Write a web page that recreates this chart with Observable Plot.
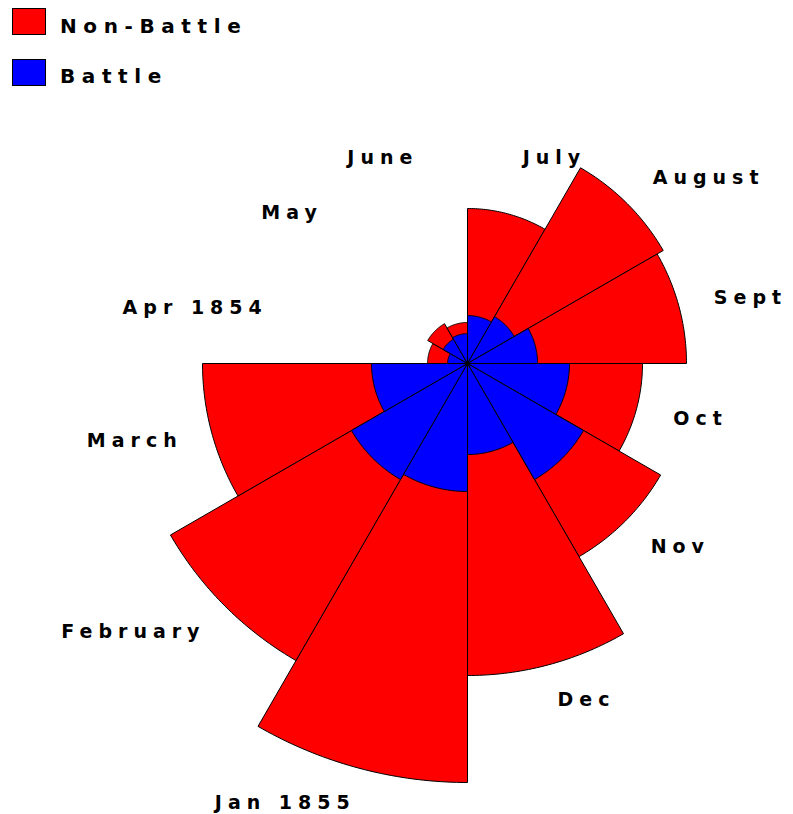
<!DOCTYPE html>
<html>
<head>
<meta charset="utf-8">
<script src="https://cdn.jsdelivr.net/npm/d3@7"></script>
<script src="https://cdn.jsdelivr.net/npm/@observablehq/plot@0.6"></script>
<style>
  html, body { margin: 0; padding: 0; background: #fff; }
  #wrap { position: relative; width: 793px; height: 814px; overflow: hidden; }
  #chart { position: absolute; left: 0; top: 0; }
  .lg-box { position: absolute; left: 12px; width: 32px; height: 25px; border: 1px solid #000; }
  .lg-text { position: absolute; left: 60px; font-family: "DejaVu Sans", sans-serif; font-weight: bold; font-size: 20px; line-height: 20px; letter-spacing: 6.6px; color: #000; white-space: nowrap; }
</style>
</head>
<body>
<div id="wrap">
  <div id="chart"></div>
  <div id="legend"></div>
</div>
<script>
// ---- data ----
const months = ["Apr 1854", "May", "June", "July", "August", "Sept", "Oct", "Nov", "Dec", "Jan 1855", "February", "March"];
const nonBattle = [9.3, 12.3, 9.8, 140, 297.6, 279.5, 178.5, 289.8, 567.3, 1023, 685.6, 409.2];
const battle = [2.3, 4.6, 5.2, 13.4, 17.0, 28.6, 60.6, 104.6, 48.3, 95.5, 104.6, 53.7];
const seriesNames = ["Non-Battle", "Battle"];
const seriesColors = ["#ff0000", "#0000ff"];

// ---- layout ----
const W = 793, H = 814;
const cx = 467, cy = 363;      // pixel position of the rose centre
const k = 13.1;                 // pixels per radial unit (radius = sqrt(value))
const startAngle = 270;         // first month starts at 9 o'clock, clockwise
const step = 30;
const spacing = 6;              // label letter-spacing (px)

function wedges(values, series) {
  const pts = [];
  values.forEach((v, i) => {
    const r = Math.sqrt(v);
    const a0 = startAngle + step * i;
    const id = series + "-" + i;
    pts.push({id, x: 0, y: 0});
    const n = 40;
    for (let s = 0; s <= n; s++) {
      const a = (a0 + step * s / n) * Math.PI / 180;
      pts.push({id, x: r * Math.sin(a), y: r * Math.cos(a)});
    }
    pts.push({id, x: 0, y: 0});
  });
  return pts;
}

const redPts = wedges(nonBattle, "nb");
const bluePts = wedges(battle, "b");

const labels = months.map((m, i) => {
  const a = ((startAngle + step * i + step / 2) % 360);
  const rad = a * Math.PI / 180;
  const r = Math.max(Math.sqrt(nonBattle[i]), 177 / k) + 36 / k;
  return {text: m, x: r * Math.sin(rad), y: r * Math.cos(rad), right: a < 180};
});

const plot = Plot.plot({
  width: W,
  height: H,
  margin: 0,
  x: {domain: [-cx / k, (W - cx) / k], axis: null},
  y: {domain: [-(H - cy) / k, cy / k], axis: null},
  style: {fontFamily: "DejaVu Sans, sans-serif", letterSpacing: spacing + "px", background: "white"},
  marks: [
    Plot.line(redPts, {x: "x", y: "y", z: "id", fill: seriesColors[0], stroke: "black", strokeWidth: 1, strokeLinejoin: "miter", curve: "linear"}),
    Plot.line(bluePts, {x: "x", y: "y", z: "id", fill: seriesColors[1], stroke: "black", strokeWidth: 1, strokeLinejoin: "miter", curve: "linear"}),
    Plot.dot([{x: 0, y: 0}], {x: "x", y: "y", r: 2.5, fill: "black"}),
    Plot.text(labels.filter(d => d.right), {x: "x", y: "y", text: "text", textAnchor: "start", fontSize: 19, fontWeight: "bold", fill: "black"}),
    Plot.text(labels.filter(d => !d.right), {x: "x", y: "y", text: "text", textAnchor: "end", dx: spacing, fontSize: 19, fontWeight: "bold", fill: "black"})
  ]
});
document.getElementById("chart").appendChild(plot);

// ---- legend ----
const legend = document.getElementById("legend");
seriesNames.forEach((name, i) => {
  const box = document.createElement("div");
  box.className = "lg-box";
  box.style.top = (8 + 51 * i) + "px";
  box.style.background = seriesColors[i];
  legend.appendChild(box);
  const t = document.createElement("div");
  t.className = "lg-text";
  t.style.top = (16 + 50 * i) + "px";
  t.textContent = name;
  legend.appendChild(t);
});
</script>
</body>
</html>
